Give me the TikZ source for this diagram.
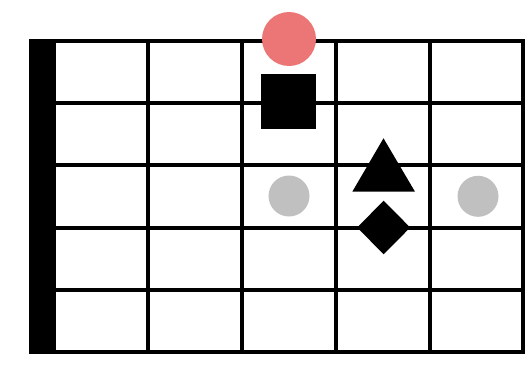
\documentclass[tikz,border=0pt]{standalone}
\definecolor{dotred}{RGB}{236,117,117}
\definecolor{dotgray}{RGB}{192,192,192}
\begin{document}
\begin{tikzpicture}[x=1pt,y=-1pt,
  gridline/.style={line width=4pt},
  mark/.append style={},
  reddot/.style={circle,fill=dotred,minimum size=54pt,inner sep=0pt},
  graydot/.style={circle,fill=dotgray,minimum size=41pt,inner sep=0pt},
  sqmark/.style={rectangle,fill=black,minimum size=55pt,inner sep=0pt}]
\useasboundingbox (0,0) rectangle (530,367);
% nut
\fill[black] (29.3,39) rectangle (56,354);
% horizontal lines
\foreach \y in {41,103,165,228,290,351.5}
  \draw[gridline] (54,\y) -- (525,\y);
% vertical lines
\foreach \x in {148,242,336,430,523}
  \draw[gridline] (\x,39) -- (\x,353.5);
% markers
\node[graydot] (g1) at (289,196) {};
\node[graydot] (g2) at (478,196.3) {};
\node[reddot] (r1) at (289,39) {};
\node[sqmark] (s1) at (288.7,101.4) {};
\fill[black] (383.5,138.3) -- (415,191.7) -- (352.3,191.7) -- cycle;
\fill[black] (383.6,200.7) -- (410.2,227.5) -- (383.6,254.3) -- (357.2,227.5) -- cycle;
\end{tikzpicture}
\end{document}
